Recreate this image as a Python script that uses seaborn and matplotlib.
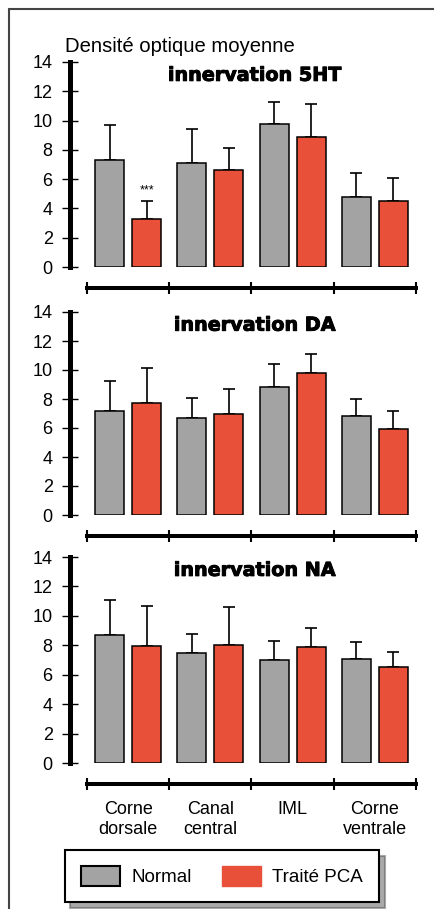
import numpy as np
import pandas as pd
import matplotlib.pyplot as plt
import matplotlib.patheffects as pe_fx
import seaborn as sns
from matplotlib.lines import Line2D
from matplotlib.patches import Patch
from matplotlib.ticker import FixedLocator

# Data
regions = ['Corne\ndorsale', 'Canal\ncentral', 'IML', 'Corne\nventrale']
groups = ['Normal', 'Traité PCA']
panel_titles = ['innervation 5HT', 'innervation DA', 'innervation NA']

normal_5ht = [7.3, 7.1, 9.8, 4.8]
normal_5ht_err = [2.4, 2.3, 1.5, 1.65]
pca_5ht = [3.3, 6.65, 8.85, 4.5]
pca_5ht_err = [1.2, 1.45, 2.3, 1.6]

normal_da = [7.2, 6.7, 8.8, 6.85]
normal_da_err = [2.05, 1.4, 1.6, 1.15]
pca_da = [7.7, 6.95, 9.8, 5.9]
pca_da_err = [2.45, 1.75, 1.3, 1.25]

normal_na = [8.7, 7.5, 7.0, 7.1]
normal_na_err = [2.35, 1.25, 1.3, 1.1]
pca_na = [7.95, 8.05, 7.85, 6.5]
pca_na_err = [2.7, 2.55, 1.3, 1.05]

y_ticks = [0, 2, 4, 6, 8, 10, 12, 14]

panels = [
    (normal_5ht, normal_5ht_err, pca_5ht, pca_5ht_err),
    (normal_da, normal_da_err, pca_da, pca_da_err),
    (normal_na, normal_na_err, pca_na, pca_na_err),
]

gray = '#a3a3a3'
red = '#e8503a'

sns.set_style('ticks')
plt.rcParams['font.family'] = ['Liberation Sans', 'DejaVu Sans']
plt.rcParams['text.color'] = 'black'
plt.rcParams['axes.edgecolor'] = 'black'
plt.rcParams['xtick.color'] = 'black'
plt.rcParams['ytick.color'] = 'black'
plt.rcParams['xtick.labelcolor'] = 'black'
plt.rcParams['ytick.labelcolor'] = 'black'

fig = plt.figure(figsize=(4.35, 9.09), dpi=100)
W, H = 435, 909
# axes boxes in pixels: (top of 14, y of 0)
boxes = [(62, 267), (312, 515), (557, 763)]
x0, x1 = 87, 416

for i, ((n, ne, p, pe), (top, bot)) in enumerate(zip(panels, boxes)):
    ax = fig.add_axes([x0 / W, 1 - bot / H, (x1 - x0) / W, (bot - top) / H])
    df = pd.DataFrame({
        'region': regions * 2,
        'groupe': [groups[0]] * 4 + [groups[1]] * 4,
        'valeur': n + p,
    })
    sns.barplot(data=df, x='region', y='valeur', hue='groupe', order=regions,
                hue_order=groups, palette=[gray, red], width=0.9, gap=0.22,
                edgecolor='black', linewidth=1.1, errorbar=None, legend=False,
                saturation=1, ax=ax)
    errs = ne + pe
    bars = [b for b in ax.patches][:8]
    xs = [b.get_x() + b.get_width() / 2 for b in bars]
    hs = [b.get_height() for b in bars]
    ax.errorbar(xs, hs, yerr=[np.zeros(len(errs)), errs], fmt='none',
                ecolor='black', elinewidth=1.2, capsize=4.3, capthick=1.2,
                zorder=1)
    for b in bars:
        b.set_zorder(2)

    if i == 0:
        # significance marker on the PCA dorsal horn bar
        ax.text(xs[4], hs[4] + errs[4] + 0.3, '***', ha='center', va='bottom',
                fontsize=9)

    ax.set_xlim(-0.5, 3.5)
    ax.set_ylim(0, 14)
    ax.set_yticks(y_ticks)
    ax.set_xlabel('')
    ax.set_ylabel('')
    for s in ['top', 'right']:
        ax.spines[s].set_visible(False)
    ax.spines['left'].set_position(('outward', 12.2))
    ax.spines['left'].set_linewidth(3.6)
    ax.spines['left'].set_bounds(0, 14)
    ax.spines['bottom'].set_position(('outward', 15))
    ax.spines['bottom'].set_linewidth(2.9)
    ax.tick_params(axis='y', direction='inout', length=11, width=1.0,
                   labelsize=13, pad=7)
    ax.tick_params(axis='x', which='major', length=0, labelsize=13, pad=12)
    ax.xaxis.set_minor_locator(FixedLocator([-0.5, 0.5, 1.5, 2.5, 3.5]))
    ax.tick_params(axis='x', which='minor', direction='inout', length=9,
                   width=1.5)
    if i < 2:
        ax.set_xticklabels([])
    else:
        for t in ax.get_xticklabels():
            t.set_linespacing(1.25)
    ax.text(0.51, 0.935, panel_titles[i], transform=ax.transAxes,
            ha='center', va='center', fontsize=13.8, fontweight='heavy',
            family='DejaVu Sans',
            path_effects=[pe_fx.withStroke(linewidth=0.7, foreground='black')])

fig.text(65 / W, 1 - 47 / H, 'Densité optique moyenne', ha='left',
         va='center', fontsize=14.6)

handles = [Patch(facecolor=gray, edgecolor='black', linewidth=1.5),
           Patch(facecolor=red, edgecolor=red)]
leg = fig.legend(handles, groups, loc='center', ncol=2,
                 bbox_to_anchor=(222 / W, 1 - 876 / H), fontsize=13.5,
                 frameon=True, fancybox=False, edgecolor='black',
                 shadow={'ox': 4, 'oy': -4, 'color': '#555555'},
                 handlelength=2.1, handleheight=1.25, handletextpad=0.6,
                 columnspacing=1.6, borderpad=0.85)
leg.get_frame().set_linewidth(1.5)
leg.get_frame().set_alpha(1)

# outer frame (top and left)
fig.add_artist(Line2D([9 / W, 1], [1 - 9 / H, 1 - 9 / H], color='#444444',
                      linewidth=1.5))
fig.add_artist(Line2D([9 / W, 9 / W], [0, 1 - 9 / H], color='#444444',
                      linewidth=1.5))

fig.savefig('out.png', dpi=100)
